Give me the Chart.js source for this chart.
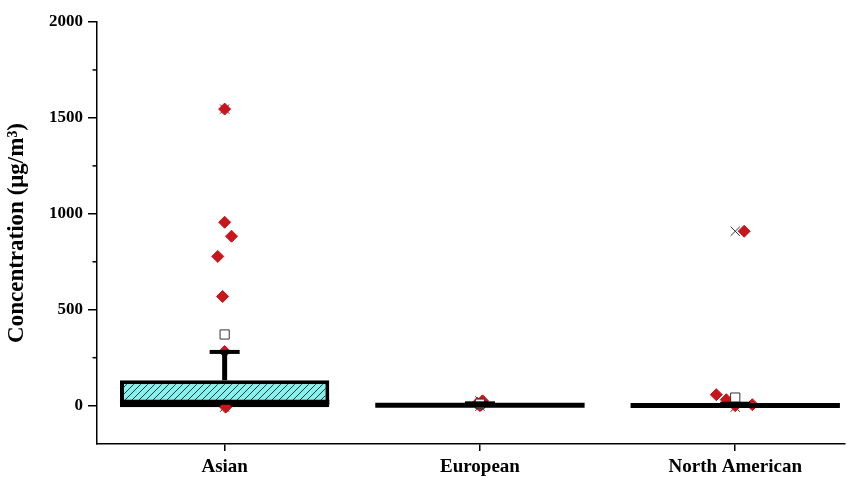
<!DOCTYPE html>
<html>
<head>
<meta charset="utf-8">
<script src="https://cdn.jsdelivr.net/npm/chart.js@4.4.1/dist/chart.umd.min.js"></script>
<style>
  html, body { margin: 0; padding: 0; background: #fff; }
  #wrap { width: 852px; height: 477px; }
</style>
</head>
<body>
<div id="wrap"><canvas id="boxChart"></canvas></div>
<script>
// categories and box statistics (µg/m3)
const categories = ["Asian", "European", "North American"];
const q1 = [-8, 0, 0];
const median = [18, 2, 1];
const q3 = [132, 6, 5];
const whiskerHigh = [280, 12, 10];

// individual measurements (red diamonds); xOff = jitter within the category
const asianPoints = [1546, 956, 883, 778, 569, 282, -8];
const asianOff = [0, 0, 0.027, -0.027, -0.008, 0, 0.004];
const europeanPoints = [25, 12, 4, 0];
const europeanOff = [0.01, -0.01, 0.004, 0];
const northAmPoints = [909, 57, 31, 5, 0];
const northAmOff = [0.035, -0.074, -0.035, 0.067, 0];

// means (open squares) and min / max (crosses)
const means = [371, 10, 42];
const minVals = [-8, -3, -8];
const maxVals = [1546, 25, 909];

const yTicks = [0, 500, 1000, 1500, 2000];
const yMinorTicks = [250, 750, 1250, 1750];

function pts(values, offs, idx) {
    return values.map((v, i) => ({ x: idx + offs[i], y: v }));
}

// hatched cyan fill like the original box
function hatchPattern() {
    const c = document.createElement("canvas");
    c.width = 7;
    c.height = 7;
    const g = c.getContext("2d");
    g.fillStyle = "#86f2ee";
    g.fillRect(0, 0, 7, 7);
    g.strokeStyle = "#2a3a3a";
    g.lineWidth = 1;
    g.beginPath();
    g.moveTo(-1, 8); g.lineTo(8, -1);
    g.moveTo(-1, 1); g.lineTo(1, -1);
    g.moveTo(6, 8); g.lineTo(8, 6);
    g.stroke();
    return g.createPattern(c, "repeat");
}

// whiskers, median line and minor ticks drawn from the scales
const boxExtras = {
    id: "boxExtras",
    afterDatasetsDraw(chart) {
        const ctx = chart.ctx;
        const y = chart.scales.y;
        const bars = chart.getDatasetMeta(0).data;
        ctx.save();
        ctx.strokeStyle = "#000";
        ctx.lineCap = "butt";
        bars.forEach((bar, i) => {
            const top = y.getPixelForValue(q3[i]);
            const hi = y.getPixelForValue(whiskerHigh[i]);
            ctx.lineWidth = 5;
            ctx.beginPath();
            ctx.moveTo(bar.x, top);
            ctx.lineTo(bar.x, hi);
            ctx.stroke();
            ctx.lineWidth = 4;
            ctx.beginPath();
            ctx.moveTo(bar.x - 15, hi);
            ctx.lineTo(bar.x + 15, hi);
            ctx.stroke();
            const m = y.getPixelForValue(median[i]);
            ctx.lineWidth = 5;
            ctx.beginPath();
            ctx.moveTo(bar.x - bar.width / 2, m);
            ctx.lineTo(bar.x + bar.width / 2, m);
            ctx.stroke();
        });
        ctx.restore();
    },
    afterDraw(chart) {
        const ctx = chart.ctx;
        const y = chart.scales.y;
        const left = chart.chartArea.left;
        ctx.save();
        ctx.strokeStyle = "#000";
        ctx.lineWidth = 1.5;
        yMinorTicks.forEach(v => {
            const p = y.getPixelForValue(v);
            ctx.beginPath();
            ctx.moveTo(left - 4.5, p);
            ctx.lineTo(left, p);
            ctx.stroke();
        });
        ctx.restore();
    }
};

const red = "#c8161d";
const fontSerif = "'Liberation Serif', 'Times New Roman', serif";

new Chart(document.getElementById("boxChart"), {
    type: "bar",
    data: {
        datasets: [
            {
                type: "bar",
                data: categories.map((c, i) => ({ x: i, y: [q1[i], q3[i]] })),
                backgroundColor: hatchPattern(),
                borderColor: "#000",
                borderWidth: 4,
                borderSkipped: false,
                barPercentage: 0.82,
                categoryPercentage: 1,
                order: 3
            },
            {
                type: "scatter",
                data: pts(asianPoints, asianOff, 0)
                    .concat(pts(europeanPoints, europeanOff, 1))
                    .concat(pts(northAmPoints, northAmOff, 2)),
                pointStyle: "rectRot",
                pointRadius: 6,
                backgroundColor: red,
                borderColor: red,
                borderWidth: 1,
                order: 1
            },
            {
                type: "scatter",
                data: means.map((v, i) => ({ x: i, y: v })),
                pointStyle: "rect",
                pointRadius: 6.5,
                backgroundColor: "#fff",
                borderColor: "#333",
                borderWidth: 1,
                order: 0
            },
            {
                type: "scatter",
                data: minVals.map((v, i) => ({ x: i, y: v }))
                    .concat(maxVals.map((v, i) => ({ x: i, y: v }))),
                pointStyle: "crossRot",
                pointRadius: 6.5,
                borderColor: "#333",
                borderWidth: 1,
                order: 2
            }
        ]
    },
    options: {
        responsive: true,
        maintainAspectRatio: false,
        animation: false,
        layout: { padding: { top: 22, left: 0, right: 0, bottom: 0 } },
        plugins: {
            legend: { display: false },
            tooltip: { enabled: false }
        },
        scales: {
            x: {
                type: "linear",
                min: -0.5,
                max: 2.428,
                offset: false,
                afterBuildTicks: s => { s.ticks = categories.map((c, i) => ({ value: i })); },
                afterFit: s => { s.height = 33; s.paddingLeft = 0; s.paddingRight = 0; },
                grid: { display: true, offset: false, drawOnChartArea: false, drawTicks: true, tickLength: 7, color: "#000", lineWidth: 1.5 },
                border: { display: true, color: "#000", width: 1.5 },
                ticks: {
                    padding: 5,
                    color: "#000",
                    font: { family: fontSerif, size: 19, weight: "bold" },
                    callback: v => categories[v]
                }
            },
            y: {
                min: -200,
                max: 2000,
                afterBuildTicks: s => { s.ticks = yTicks.map(v => ({ value: v })); },
                afterFit: s => { s.width = 97; },
                grid: { display: true, drawOnChartArea: false, drawTicks: true, tickLength: 9, color: "#000", lineWidth: 1.5 },
                border: { display: true, color: "#000", width: 1.5 },
                ticks: {
                    padding: 5,
                    color: "#000",
                    font: { family: fontSerif, size: 17, weight: "bold" },
                    callback: v => String(v)
                },
                title: {
                    display: true,
                    text: "Concentration (μg/m³)",
                    color: "#000",
                    padding: { top: 3, bottom: 0 },
                    font: { family: fontSerif, size: 23, weight: "bold" }
                }
            }
        }
    },
    plugins: [boxExtras]
});
</script>
</body>
</html>
